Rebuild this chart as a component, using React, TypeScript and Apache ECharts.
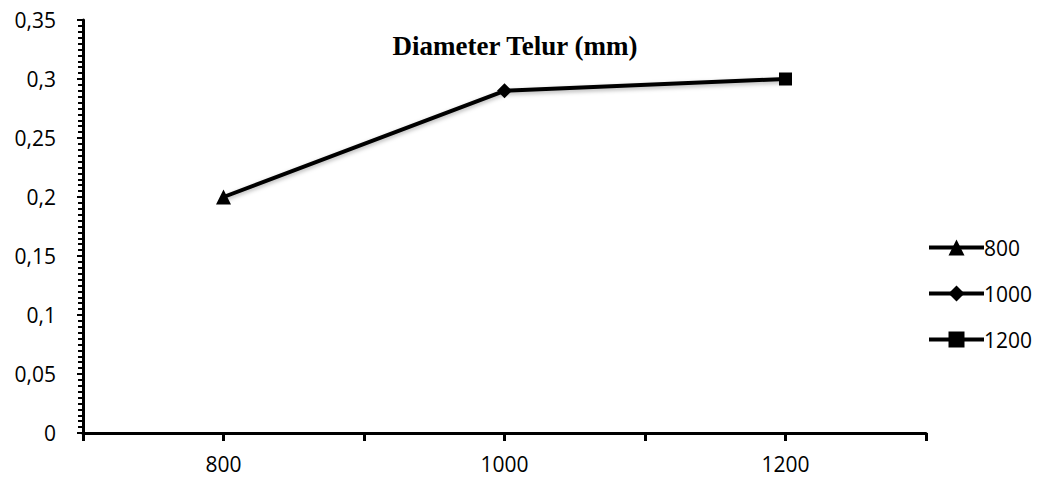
import React, { useEffect, useRef } from "react";
import * as echarts from "echarts";

const categories = [800, 1000, 1200];
const values = [0.2, 0.29, 0.3];
const symbols = ["triangle", "diamond", "rect"];
const legendNames = ["800", "1000", "1200"];
const xLabels = [800, 1000, 1200];
const titleText = "Diameter Telur (mm)";

export default function App() {
  const ref = useRef<HTMLDivElement>(null);
  useEffect(() => {
    if (!ref.current) return;
    const chart = echarts.init(ref.current, undefined, { renderer: "svg" });
    const mainData = categories.map((c, i) => ({
      value: [c, values[i]],
      symbol: symbols[i],
      symbolSize: symbols[i] === "rect" ? 13 : 15,
    }));
    const legendSeries = legendNames.map((n, i) => ({
      name: n,
      type: "line",
      data: [],
      symbol: symbols[i],
      symbolSize: 14,
      lineStyle: { color: "#000", width: 4 },
      itemStyle: { color: "#000" },
    }));
    chart.setOption({
      animation: false,
      backgroundColor: "#fff",
      title: {
        text: titleText,
        left: 510,
        textAlign: "center",
        top: 27,
        textStyle: {
          fontFamily: "Liberation Serif",
          fontWeight: "bold",
          fontSize: 27,
          color: "#000",
        },
      },
      legend: {
        orient: "vertical",
        left: 922,
        top: 232,
        itemWidth: 55,
        itemHeight: 20,
        itemGap: 25,
        data: legendNames,
        lineStyle: { width: 4, color: "#000" },
        itemStyle: { color: "#000" },
        textStyle: { fontFamily: "Open Sans", fontSize: 21, color: "#000", padding: [0, 0, 0, -5] },
      },
      grid: { left: 83, right: 114, top: 20, bottom: 46 },
      xAxis: {
        type: "value",
        min: 700,
        max: 1300,
        interval: 100,
        axisLine: { lineStyle: { color: "#000", width: 3 } },
        axisTick: { show: true, length: 8, lineStyle: { color: "#000", width: 3 } },
        splitLine: { show: false },
        axisLabel: {
          margin: 20,
          fontFamily: "Open Sans",
          fontSize: 21,
          color: "#000",
          lineHeight: 22,
          formatter: (v: number) => (xLabels.includes(v) ? String(v) : ""),
        },
      },
      yAxis: {
        type: "value",
        min: 0,
        max: 0.35,
        interval: 0.05,
        axisLine: { show: true, lineStyle: { color: "#000", width: 3 } },
        axisTick: { show: true, length: 6, lineStyle: { color: "#000", width: 2 } },
        minorTick: { show: true, splitNumber: 10, length: 5, lineStyle: { color: "#000", width: 2 } },
        splitLine: { show: false },
        axisLabel: {
          margin: 27,
          fontFamily: "Open Sans",
          fontSize: 21,
          color: "#000",
          formatter: (v: number) => String(Math.round(v * 100) / 100).replace(".", ","),
        },
      },
      series: [
        {
          type: "line",
          data: mainData,
          lineStyle: { color: "#000", width: 4, shadowColor: "rgba(0,0,0,0.3)", shadowBlur: 4, shadowOffsetY: 2 },
          itemStyle: { color: "#000" },
          z: 3,
        },
        ...legendSeries,
      ],
    });
    return () => chart.dispose();
  }, []);
  return <div ref={ref} style={{ width: 1040, height: 479, position: "absolute", left: 0, top: 0 }} />;
}
